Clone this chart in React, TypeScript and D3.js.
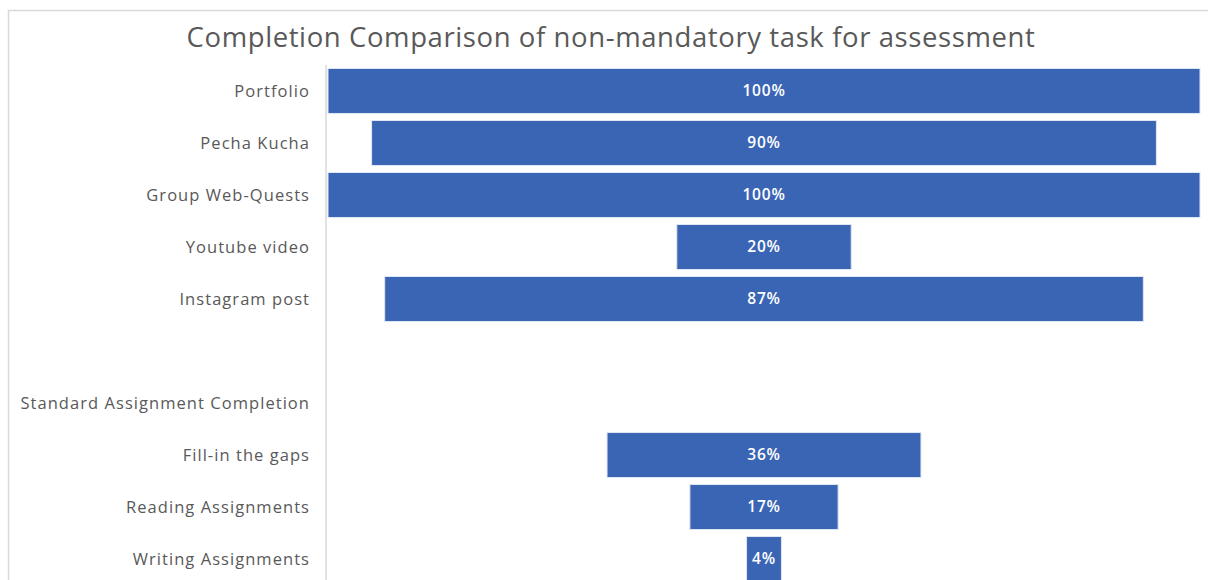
import React from "react";
import * as d3 from "d3";

const categories = [
  "Portfolio",
  "Pecha Kucha",
  "Group Web-Quests",
  "Youtube video",
  "Instagram post",
  " ",
  "Standard Assignment Completion",
  "Fill-in the gaps",
  "Reading Assignments",
  "Writing Assignments",
];
const values: (number | null)[] = [1.0, 0.9, 1.0, 0.2, 0.87, null, null, 0.36, 0.17, 0.04];
const title = "Completion Comparison of non-mandatory task for assessment";

export default function App() {
  const W = 1208;
  const H = 580;
  const y = d3.scaleBand<string>().domain(categories).range([65, 585]).paddingInner(0.135).paddingOuter(0.067);
  const x = d3.scaleLinear().domain([-0.5, 0.5]).range([328, 1200]);
  const fmt = d3.format(".0%");
  const font = "'Open Sans', sans-serif";
  return (
    <svg width={W} height={H} style={{ position: "absolute", left: 0, top: 0, background: "#fff" }}>
      <rect x={8.5} y={10.5} width={1300} height={700} fill="#fff" stroke="#d9d9d9" strokeWidth={1.5} />
      <text x={611} y={47} textAnchor="middle" fontFamily={font} fontSize={27.5} letterSpacing={0.6} fill="#595959">
        {title}
      </text>
      <line x1={326} x2={326} y1={65} y2={580} stroke="#d9d9d9" strokeWidth={1.5} />
      {categories.map((c, i) => {
        const cy = (y(c) ?? 0) + y.bandwidth() / 2;
        const v = values[i];
        return (
          <g key={c}>
            <text x={310} y={cy} dy="0.35em" textAnchor="end" fontFamily={font} fontSize={16.5} letterSpacing={1.05} fill="#595959">
              {c.trim()}
            </text>
            {v !== null && (
              <>
                <rect
                  x={x(-v / 2)}
                  y={y(c)}
                  width={x(v / 2) - x(-v / 2)}
                  height={y.bandwidth()}
                  fill="#3a65b5"
                  stroke="#dfe6f3"
                  strokeWidth={1}
                />
                <text x={x(0)} y={cy} dy="0.35em" textAnchor="middle" fontFamily={font} fontSize={15.5} fontWeight={600} letterSpacing={0.8} fill="#ffffff">
                  {fmt(v)}
                </text>
              </>
            )}
          </g>
        );
      })}
    </svg>
  );
}
